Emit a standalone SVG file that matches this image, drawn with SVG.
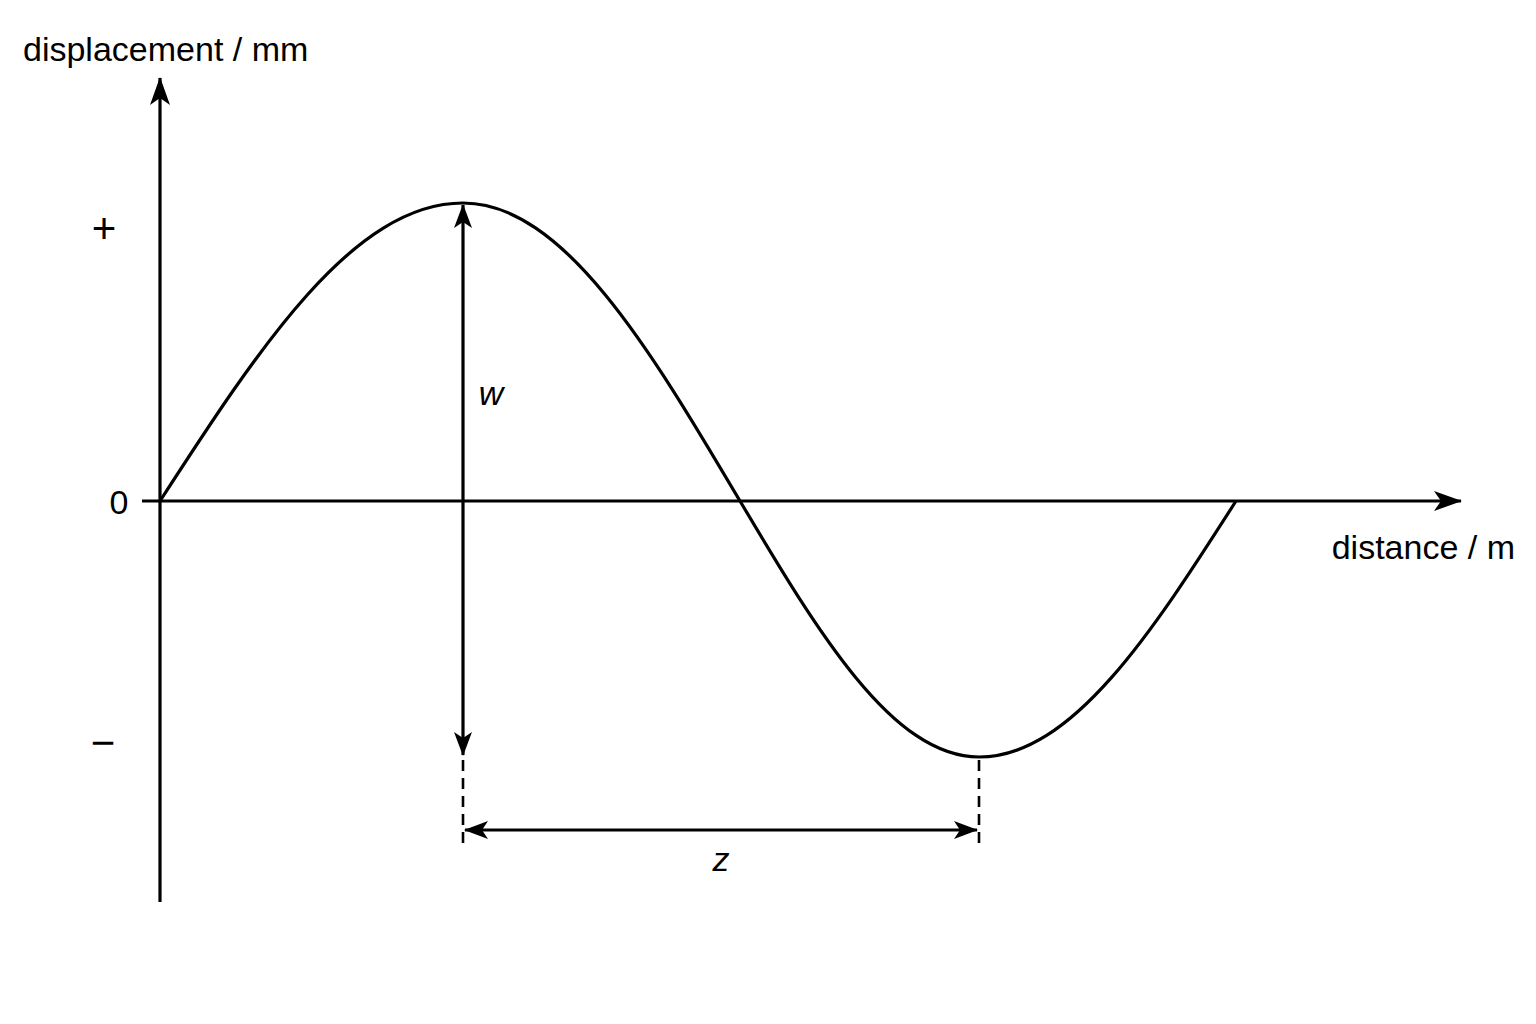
<svg xmlns="http://www.w3.org/2000/svg" width="1536" height="1024" viewBox="0 0 1536 1024">
<style>
.ln{stroke:#000;stroke-width:3.2;fill:none}
.ds{stroke:#000;stroke-width:2.6;fill:none;stroke-dasharray:11 7}
.t{font-family:"Liberation Sans",Arial,sans-serif;font-size:34px;fill:#000}
.s{font-size:42px}
.i{font-style:italic}
</style>
<defs>
<marker id="ah" viewBox="0 0 24 18" refX="23" refY="9" markerWidth="24" markerHeight="18" markerUnits="userSpaceOnUse" orient="auto-start-reverse">
<path d="M0,0 L24,9 L0,18 L6,9 Z" fill="#000"/>
</marker>
<marker id="ax" viewBox="0 0 28 20" refX="27" refY="10" markerWidth="28" markerHeight="20" markerUnits="userSpaceOnUse" orient="auto">
<path d="M0,0 L28,10 L0,20 L7,10 Z" fill="#000"/>
</marker>
</defs>
<rect width="1536" height="1024" fill="#fff"/>
<g id="axes">
<line class="ln" x1="160" y1="902" x2="160" y2="78" marker-end="url(#ax)"/>
<line class="ln" x1="142" y1="501" x2="1461" y2="501" marker-end="url(#ax)"/>
</g>
<g id="curve">
<path class="ln" d="M160,501 C258.8,348.3 353.3,203 463,203 C563.2,203 649.7,348.3 740,501 C817.9,632.1 892.5,757 979,757 C1072,757 1152.2,632.1 1236,501"/>
</g>
<g id="connectors">
<line class="ln" x1="463" y1="205" x2="463" y2="755" marker-start="url(#ah)" marker-end="url(#ah)"/>
<line class="ds" x1="463" y1="760" x2="463" y2="846"/>
<line class="ds" x1="979" y1="760" x2="979" y2="846"/>
<line class="ln" x1="465" y1="830" x2="977" y2="830" marker-start="url(#ah)" marker-end="url(#ah)"/>
</g>
<g id="labels">
<text class="t" x="23" y="61">displacement / mm</text>
<text class="t" x="1515" y="559" text-anchor="end">distance / m</text>
<text class="t s" x="104" y="243" text-anchor="middle">+</text>
<text class="t" x="119" y="514" text-anchor="middle">0</text>
<text class="t s" x="103" y="757" text-anchor="middle">−</text>
<text class="t i" x="491" y="405" text-anchor="middle">w</text>
<text class="t i" x="721" y="871" text-anchor="middle">z</text>
</g>
</svg>
